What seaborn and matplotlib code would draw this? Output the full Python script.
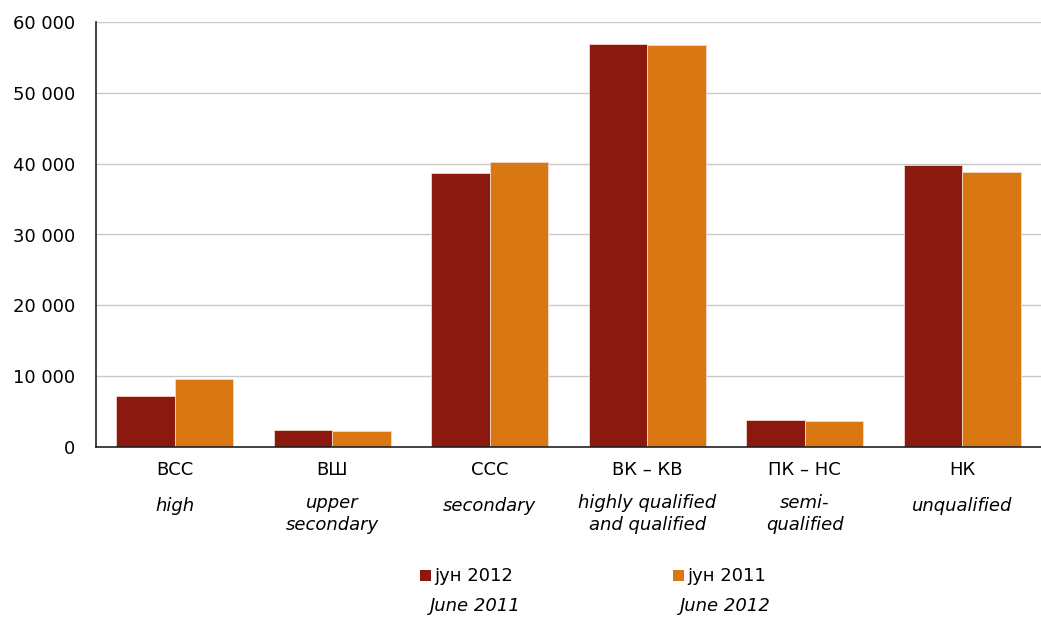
import matplotlib
matplotlib.use("Agg")
import matplotlib.pyplot as plt
from matplotlib.patches import Rectangle
import matplotlib.transforms as mtransforms
import pandas as pd
import seaborn as sns

# Data
categories = ['ВСС', 'ВШ', 'ССС', 'ВК – КВ', 'ПК – НС', 'НК']
categories_en = ['high', 'upper\nsecondary', 'secondary', 'highly qualified\nand qualified',
                 'semi-\nqualified', 'unqualified']
series = ['јун 2012', 'јун 2011']
series_en = ['June 2011', 'June 2012']
jun2012 = [7150, 2400, 38700, 56900, 3860, 39800]
jun2011 = [9560, 2260, 40250, 56700, 3630, 38850]
colors = ['#8B1910', '#D97713']

df = pd.DataFrame({
    'cat': categories * 2,
    'series': [series[0]] * 6 + [series[1]] * 6,
    'value': jun2012 + jun2011,
})

sns.set_style('white')
plt.rcParams['font.family'] = ['DejaVu Sans']
plt.rcParams['text.color'] = 'black'

fig = plt.figure(figsize=(10.41, 6.19), dpi=100)
ax = fig.add_axes([96 / 1041, 1 - 447 / 619, 1 - 96 / 1041, (447 - 22) / 619])

sns.barplot(data=df, x='cat', y='value', hue='series', hue_order=series, order=categories,
            palette=colors, saturation=1, width=0.74, edgecolor='#f3d8cc', linewidth=0.6,
            legend=False, ax=ax)

ax.set_xlim(-0.5, 5.5)
ax.set_ylim(0, 60000)
ax.set_yticks(range(0, 60001, 10000))
ax.set_yticklabels([f'{v:,}'.replace(',', ' ') for v in range(0, 60001, 10000)], fontsize=13)
ax.set_xticks([i - 0.5 for i in range(7)])
ax.set_xticklabels([])
ax.set_xlabel('')
ax.set_ylabel('')
ax.yaxis.grid(True, color='#c8c8c8', linewidth=1)
ax.set_axisbelow(True)
for s in ['top', 'right']:
    ax.spines[s].set_visible(False)
for s in ['left', 'bottom']:
    ax.spines[s].set_color('#222222')
    ax.spines[s].set_linewidth(1.2)
ax.tick_params(axis='both', direction='out', length=6, width=1, color='#222222')
ax.tick_params(axis='y', pad=9, labelcolor='black')

# category labels
trans = mtransforms.blended_transform_factory(ax.transData, fig.transFigure)
for i, (c, e) in enumerate(zip(categories, categories_en)):
    ax.text(i, 1 - 470 / 619, c, transform=trans, ha='center', va='center', fontsize=13)
    ypos = 514 if '\n' in e else 506
    ax.text(i, 1 - ypos / 619, e, transform=trans, ha='center', va='center', fontsize=13,
            style='italic', linespacing=1.25)

# legend
for x0, col, lab, en, ex in [(420, colors[0], series[0], series_en[0], 430),
                             (673, colors[1], series[1], series_en[1], 680)]:
    fig.add_artist(Rectangle((x0 / 1041, 1 - 581 / 619), 11 / 1041, 11 / 619,
                             transform=fig.transFigure, facecolor=col, edgecolor='none'))
    fig.text((x0 + 14) / 1041, 1 - 576 / 619, lab, ha='left', va='center', fontsize=13)
    fig.text(ex / 1041, 1 - 606 / 619, en, ha='left', va='center', fontsize=13, style='italic')

fig.savefig('out.png', dpi=100)
